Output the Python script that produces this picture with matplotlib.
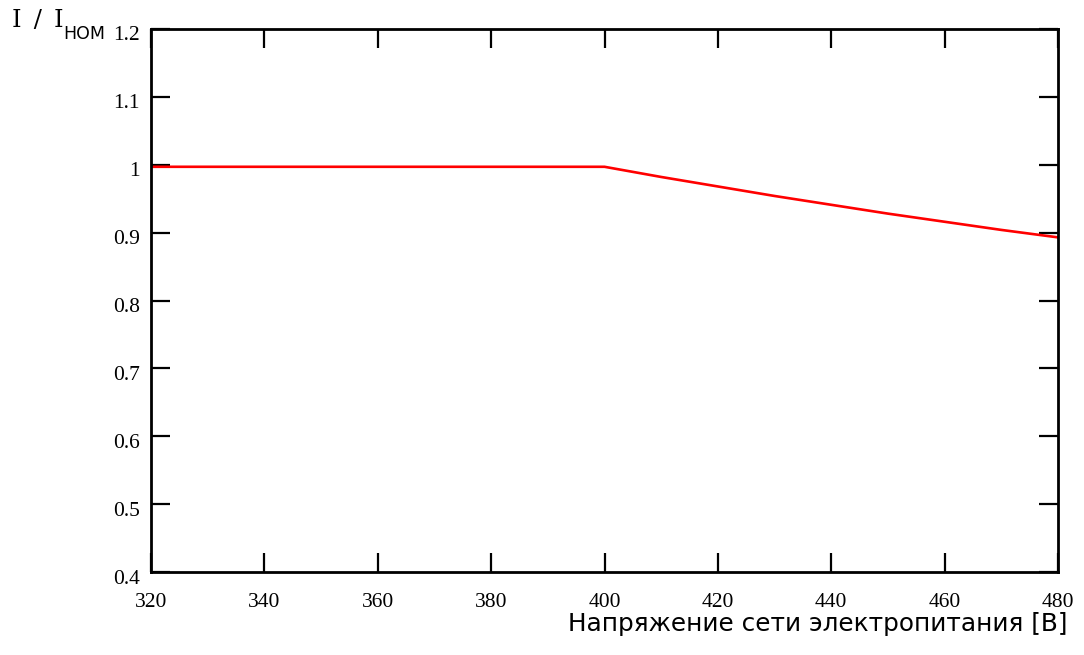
import matplotlib
matplotlib.use("Agg")
import matplotlib.pyplot as plt
import matplotlib.transforms as mtransforms

# Data
voltage = [320, 340, 360, 380, 400, 410, 420, 430, 440, 450, 460, 470, 480]
current_ratio = [0.997, 0.997, 0.997, 0.997, 0.997, 0.982, 0.968, 0.954, 0.941,
                 0.928, 0.916, 0.904, 0.893]
x_ticks = [320, 340, 360, 380, 400, 420, 440, 460, 480]
y_ticks = [0.4, 0.5, 0.6, 0.7, 0.8, 0.9, 1.0, 1.1, 1.2]
y_tick_labels = ["0.4", "0.5", "0.6", "0.7", "0.8", "0.9", "1", "1.1", "1.2"]
x_label = "Напряжение сети электропитания [В]"
y_label_main = "I\u2002/\u2002I"
y_label_sub = "HOM"

fig = plt.figure(figsize=(10.84, 6.55), dpi=100)
ax = fig.add_axes([151 / 1084, 1 - 572 / 655, (1058 - 151) / 1084, (572 - 29) / 655])

ax.plot(voltage, current_ratio, color="#ff0000", lw=1.9, solid_joinstyle="miter")

ax.set_xlim(320, 480)
ax.set_ylim(0.4, 1.2)
ax.set_xticks(x_ticks)
ax.set_yticks(y_ticks)
ax.set_yticklabels(y_tick_labels)

for s in ax.spines.values():
    s.set_linewidth(2.0)
    s.set_color("black")

ax.tick_params(direction="in", length=14, width=1.6, top=True, right=True,
               labelsize=15.5, colors="black")
ax.tick_params(axis="x", pad=15)
ax.tick_params(axis="y", pad=8)
shift = mtransforms.ScaledTranslation(0, -0.045, fig.dpi_scale_trans)
for lbl in ax.get_xticklabels() + ax.get_yticklabels():
    lbl.set_fontfamily("Liberation Serif")
for lbl in ax.get_yticklabels():
    lbl.set_transform(lbl.get_transform() + shift)

fig.text(1067 / 1084, 1 - 631 / 655, x_label, ha="right", va="baseline",
         fontsize=17.8, family="DejaVu Sans")
fig.text(12 / 1084, 1 - 27 / 655, y_label_main, ha="left", va="baseline",
         fontsize=17.5, family="DejaVu Serif")
fig.text(63 / 1084, 1 - 39 / 655, y_label_sub, ha="left", va="baseline",
         fontsize=12.5, family="DejaVu Sans")

fig.savefig("out.png", dpi=100)
